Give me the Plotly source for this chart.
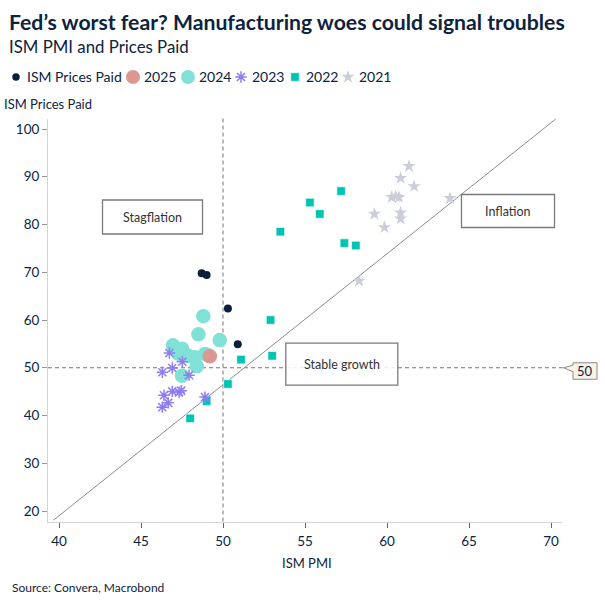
import plotly.graph_objects as go

# ---------------- data ----------------
pp_x = [48.7, 49.0, 50.3, 50.9]            # ISM Prices Paid (latest months)
pp_y = [69.8, 69.4, 62.4, 54.9]

y2025_x = [49.2]
y2025_y = [52.4]

y2024_x = [48.8, 48.5, 49.8, 46.95, 47.5, 48.9, 48.3, 48.4, 47.5, 47.3, 47.9, 49.1]
y2024_y = [60.8, 57.0, 55.8, 54.7, 54.0, 52.9, 52.2, 50.3, 48.3, 52.9, 52.5, 52.6]

y2023_x = [46.73, 47.52, 46.30, 46.91, 47.93, 46.40, 46.91, 47.32, 46.66, 46.30, 48.90, 47.45]
y2023_y = [53.1, 51.25, 49.05, 49.95, 48.45, 44.25, 45.05, 44.85, 42.65, 41.75, 43.85, 45.2]

y2022_x = [57.4, 58.1, 57.2, 55.3, 55.9, 53.5, 52.9, 53.0, 51.1, 50.3, 49.0, 48.0]
y2022_y = [76.1, 75.6, 87.0, 84.6, 82.2, 78.5, 60.0, 52.5, 51.7, 46.6, 43.0, 39.4]

y2021_x = [61.34, 60.83, 61.65, 60.29, 60.53, 60.73, 63.84, 59.23, 60.83, 60.83, 59.84, 58.3]
y2021_y = [92.2, 89.7, 88.0, 85.7, 85.9, 85.7, 85.5, 82.2, 82.5, 81.2, 79.4, 68.2]

trend_x = [39.67, 70.29]
trend_y = [18.1, 102.1]

x_ticks = [40, 45, 50, 55, 60, 65, 70]
y_ticks = [20, 30, 40, 50, 60, 70, 80, 90, 100]
threshold = 50

legend_names = ["ISM Prices Paid", "2025", "2024", "2023", "2022", "2021"]

# ---------------- layout helpers ----------------
W = H = 605
L, R, T, B = 48, 562, 118.5, 521.5   # plot area in page pixels


def px(v):
    return v / W


def py(v):
    return 1 - v / H


NAVY = "#0c2340"
FONT = "Lato"

fig = go.Figure()

# trend line
fig.add_trace(go.Scatter(x=trend_x, y=trend_y, mode="lines",
                         line=dict(color="#8c8c8c", width=1), showlegend=False, hoverinfo="skip"))

styles = {
    "2021": dict(symbol="star", size=10, color="#c9ced9", line=dict(width=0)),
    "2022": dict(symbol="square", size=8.5, color="#00c4b2", line=dict(width=1, color="rgba(255,255,255,0.6)")),
    "2024": dict(symbol="circle", size=14.5, color="#80e1d6", line=dict(width=0)),
    "2023": dict(symbol="asterisk-open", size=9.5, color="#8e7cf3", line=dict(width=1.5, color="#8e7cf3")),
    "2025": dict(symbol="circle", size=14.5, color="#db9791", line=dict(width=0)),
    "ISM Prices Paid": dict(symbol="circle", size=8, color="#0a1f3c", line=dict(width=0)),
}

series = [("2021", y2021_x, y2021_y), ("2022", y2022_x, y2022_y), ("2024", y2024_x, y2024_y),
          ("2023", y2023_x, y2023_y), ("2025", y2025_x, y2025_y), ("ISM Prices Paid", pp_x, pp_y)]
for name, xs, ys in series:
    fig.add_trace(go.Scatter(x=xs, y=ys, mode="markers", name=name, marker=styles[name],
                             showlegend=False))

# custom legend row (helper page-pixel axes covering the whole page)
leg_marker_px = [16, 133, 188, 241, 295, 348]
leg_text_px = [25, 142, 197, 250, 304, 357]
leg_y = 77
leg_sizes = {"ISM Prices Paid": 7.5, "2025": 14, "2024": 14, "2023": 9.5, "2022": 8.5, "2021": 10}
for name, mx in zip(legend_names, leg_marker_px):
    st = dict(styles[name])
    st["size"] = leg_sizes[name]
    fig.add_trace(go.Scatter(x=[mx], y=[leg_y], xaxis="x2", yaxis="y2", mode="markers",
                             marker=st, showlegend=False, cliponaxis=False, hoverinfo="skip"))

ann = []
for name, tx in zip(legend_names, leg_text_px):
    ann.append(dict(x=px(tx), y=py(leg_y), xref="paper", yref="paper", xanchor="left", yanchor="middle",
                    text=name, showarrow=False, font=dict(family=FONT, size=14, color=NAVY)))

# titles and texts
ann += [
    dict(x=px(7), y=py(22), xref="paper", yref="paper", xanchor="left", yanchor="middle",
         text="<b>Fed’s worst fear? Manufacturing woes could signal troubles</b>", showarrow=False,
         font=dict(family=FONT, size=21.2, color=NAVY)),
    dict(x=px(7), y=py(47), xref="paper", yref="paper", xanchor="left", yanchor="middle",
         text="ISM PMI and Prices Paid", showarrow=False, font=dict(family=FONT, size=16.8, color=NAVY)),
    dict(x=px(2), y=py(104), xref="paper", yref="paper", xanchor="left", yanchor="middle",
         text="ISM Prices Paid", showarrow=False, font=dict(family=FONT, size=13, color=NAVY)),
    dict(x=px(307), y=py(563), xref="paper", yref="paper", xanchor="center", yanchor="middle",
         text="ISM PMI", showarrow=False, font=dict(family=FONT, size=13, color=NAVY)),
    dict(x=px(10), y=py(587), xref="paper", yref="paper", xanchor="left", yanchor="middle",
         text="Source: Convera, Macrobond", showarrow=False, font=dict(family=FONT, size=12, color=NAVY)),
]

# quadrant boxes
boxes = [("Stagflation", 152.5, 217, 100, 34), ("Inflation", 508, 211, 93, 33),
         ("Stable growth", 341.8, 364.2, 112, 42)]
shapes = []
for text, cx, cy, bw, bh in boxes:
    shapes.append(dict(type="rect", xref="paper", yref="paper",
                       x0=px(cx - bw / 2), x1=px(cx + bw / 2), y0=py(cy + bh / 2), y1=py(cy - bh / 2),
                       line=dict(color="#7a7a7a", width=1.3), fillcolor="rgba(255,255,255,0.85)", layer="above"))
    ann.append(dict(x=px(cx), y=py(cy), xref="paper", yref="paper", xanchor="center", yanchor="middle",
                    text=text, showarrow=False, font=dict(family=FONT, size=12.5, color="#333333")))

# dashed threshold lines
shapes.append(dict(type="line", xref="x", yref="y domain", x0=threshold, x1=threshold, y0=0, y1=1,
                   line=dict(color="#777777", width=1, dash="4px,3px"), layer="below"))
shapes.append(dict(type="line", xref="paper", yref="y", x0=px(L), x1=px(563.5), y0=threshold, y1=threshold,
                   line=dict(color="#777777", width=1, dash="4px,3px"), layer="below"))

# "50" callout on the right
y50 = 129 + (100 - threshold) * 4.775
pts = [(573, y50 - 5), (597, y50 - 5), (597, y50 + 11.5), (573, y50 + 11.5), (573, y50 + 4), (563.5, y50), (573, y50 - 2.5)]
path = "M " + " L ".join(f"{px(a):.5f},{py(b):.5f}" for a, b in pts) + " Z"
shapes.append(dict(type="path", xref="paper", yref="paper", path=path,
                   fillcolor="#fdf2e6", line=dict(color="#8a8a8a", width=1)))
ann.append(dict(x=px(585), y=py(y50 + 3.3), xref="paper", yref="paper", xanchor="center", yanchor="middle",
                text=str(threshold), showarrow=False, font=dict(family=FONT, size=13, color=NAVY)))

x_lo = 40 - (59 - L) / 16.4
x_hi = 40 + (R - 59) / 16.4
y_hi = 100 + (129 - T) / 4.775
y_lo = 100 - (B - 129) / 4.775

fig.update_layout(
    width=W, height=H, autosize=False,
    margin=dict(l=0, r=0, t=0, b=0, pad=0),
    paper_bgcolor="white", plot_bgcolor="rgba(0,0,0,0)",
    showlegend=False,
    font=dict(family=FONT, color=NAVY),
    xaxis=dict(domain=[L / W, R / W], anchor="y", range=[x_lo, x_hi], tickvals=x_ticks, ticks="outside",
               ticklen=5, tickcolor="#666666", ticklabelstandoff=2,
               showline=True, linecolor="#d4d4d4", linewidth=1, showgrid=False, zeroline=False,
               tickfont=dict(family=FONT, size=13.5, color=NAVY)),
    yaxis=dict(domain=[1 - B / H, 1 - T / H], anchor="x", range=[y_lo, y_hi], tickvals=y_ticks,
               ticks="outside", ticklen=5, tickcolor="#999999",
               showline=True, linecolor="#d4d4d4", linewidth=1, showgrid=False, zeroline=False,
               tickfont=dict(family=FONT, size=13.5, color=NAVY)),
    xaxis2=dict(domain=[0, 1], anchor="y2", range=[0, W], visible=False),
    yaxis2=dict(domain=[0, 1], anchor="x2", range=[H, 0], visible=False),
    shapes=shapes, annotations=ann,
)

fig.write_html("out.html")
